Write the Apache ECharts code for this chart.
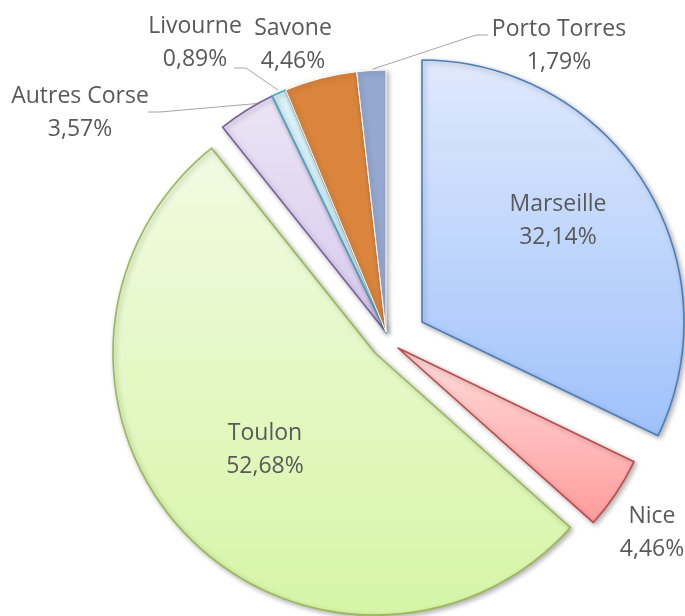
<!DOCTYPE html>
<html>
<head>
<meta charset="utf-8">
<script src="https://cdn.jsdelivr.net/npm/echarts@6/dist/echarts.min.js"></script>
<style>
html,body{margin:0;padding:0;background:#fff;}
#chart{width:685px;height:616px;}
</style>
</head>
<body>
<div id="chart"></div>
<script>
// ---- data ----
const categories = ['Marseille', 'Nice', 'Toulon', 'Autres Corse', 'Livourne', 'Savone', 'Porto Torres'];
const values = [36, 5, 59, 4, 1, 5, 2];

// ---- styles ----
const fills = [
  {type:'linear',x:0,y:0,x2:0,y2:1,colorStops:[{offset:0,color:'#dfe9fc'},{offset:1,color:'#9fc2fb'}]},
  {type:'linear',x:0,y:0,x2:0,y2:1,colorStops:[{offset:0,color:'#ffdcdc'},{offset:1,color:'#ff9c9c'}]},
  {type:'linear',x:0,y:0,x2:0,y2:1,colorStops:[{offset:0,color:'#f1fbe2'},{offset:1,color:'#d6f5a6'}]},
  {type:'linear',x:0,y:0,x2:0,y2:1,colorStops:[{offset:0,color:'#ebe5f5'},{offset:1,color:'#d7c9ee'}]},
  '#daf2fa',
  '#da843c',
  '#95a8d0'
];
const borders = ['#4a7ebb', '#be4b48', '#98b954', '#7d60a0', '#46aac5', '#ffffff', '#ffffff'];
const borderWidths = [1.6, 1.6, 1.6, 1.6, 1.6, 1, 1];

// series groups: which slices each pie series draws, and its centre
const groups = [
  {show:[3,4,5,6], center:[386,332]},
  {show:[0], center:[422,322]},
  {show:[1], center:[398,348]},
  {show:[2], center:[375,353]}
];
const labelPos = {
  0:{x:558,y:221},
  1:{x:652,y:533},
  2:{x:265,y:450},
  3:{x:80,y:113, line:[[263,103],[160,112],[148,112]]},
  4:{x:195,y:43, line:[[278,90],[246,68],[234,68]]},
  5:{x:293,y:45},
  6:{x:559,y:46, line:[[373,69],[476,35],[488,35]]}
};
const insideIdx = [0, 2];
const total = values.reduce((a,b)=>a+b,0);

const chart = echarts.init(document.getElementById('chart'), null, {renderer:'canvas'});

const series = groups.map(g => ({
  type:'pie',
  radius:262,
  center:g.center,
  startAngle:90,
  clockwise:true,
  animation:false,
  avoidLabelOverlap:false,
  silent:true,
  emphasis:{disabled:true},
  labelLayout:function(p){
    const lp = labelPos[p.dataIndex];
    const r = {x:lp.x, y:lp.y, align:'center', verticalAlign:'middle'};
    if (lp.line) r.labelLinePoints = lp.line;
    return r;
  },
  data: categories.map((name, i) => {
    const visible = g.show.indexOf(i) >= 0;
    if (!visible) {
      return {name, value:values[i],
        itemStyle:{color:'rgba(0,0,0,0)', borderWidth:0, shadowBlur:0, shadowColor:'rgba(0,0,0,0)'},
        label:{show:false}, labelLine:{show:false}};
    }
    return {
      name, value:values[i],
      itemStyle:{
        color:fills[i], borderColor:borders[i], borderWidth:borderWidths[i],
        shadowBlur:5, shadowOffsetX:2, shadowOffsetY:2, shadowColor:'rgba(0,0,0,0.3)'
      },
      label:{
        show:true,
        position: insideIdx.indexOf(i) >= 0 ? 'inside' : 'outside',
        formatter: p => p.name + '\n' + (p.value / total * 100).toFixed(2).replace('.', ',') + '%',
        color:'#595959', fontFamily:'Open Sans', fontSize:23, lineHeight:33, align:'center'
      },
      labelLine:{show: !!labelPos[i].line, lineStyle:{color:'#a6a6a6', width:1}}
    };
  })
}));

chart.setOption({backgroundColor:'#ffffff', series});
</script>
</body>
</html>
